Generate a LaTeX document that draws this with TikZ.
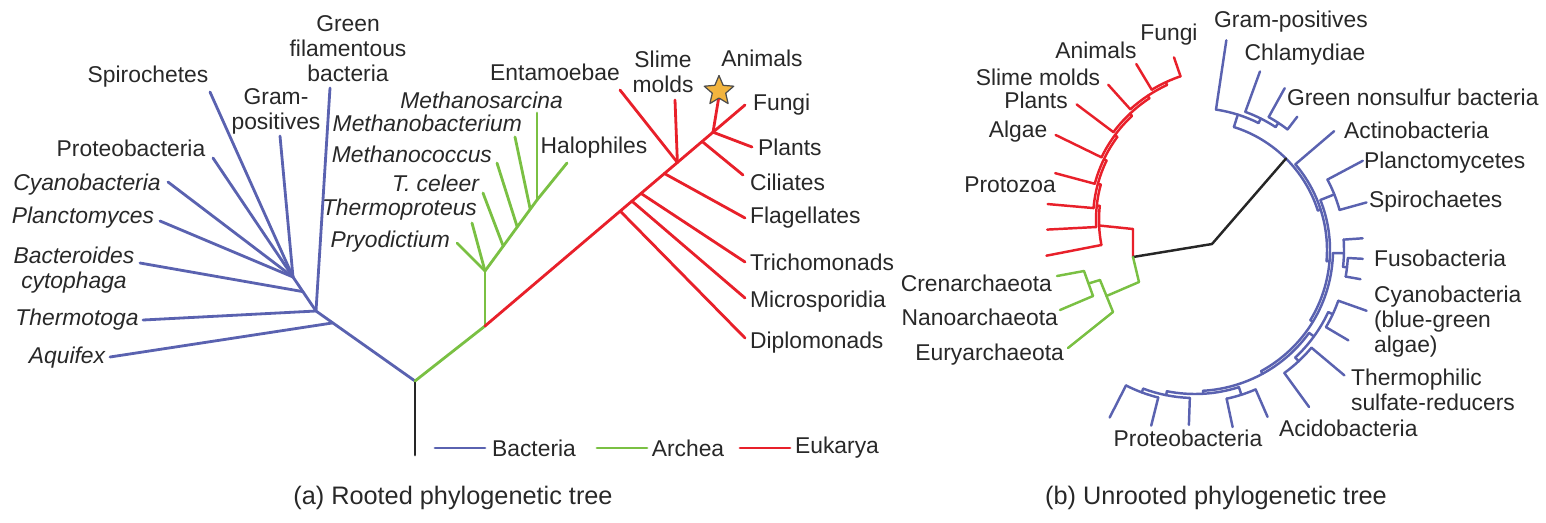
\documentclass[tikz,border=0pt]{standalone}
\usepackage{fontspec}
\setmainfont{Liberation Sans}
\usepackage{xcolor}
\usepackage{tikz}
\usetikzlibrary{shapes.geometric, calc}

\definecolor{bactblue}{RGB}{90,98,176}
\definecolor{archgreen}{RGB}{122,192,67}
\definecolor{eukred}{RGB}{232,32,42}
\definecolor{stargold}{RGB}{242,180,62}
\definecolor{labelgray}{RGB}{40,40,40}

\newcommand{\taxsize}{\fontsize{13}{14.2}\selectfont}
\newcommand{\capsize}{\fontsize{14.4}{17}\selectfont}

\tikzset{
  taxon/.style={font=\taxsize, text=labelgray, inner sep=1pt, align=center},
  taxit/.style={taxon, font=\taxsize\itshape},
  caption/.style={font=\capsize, text=labelgray, inner sep=1pt},
  bacline/.style={draw=bactblue, line width=1.6pt},
  archline/.style={draw=archgreen, line width=1.6pt},
  eukline/.style={draw=eukred, line width=1.6pt},
  stemline/.style={draw=black!85, line width=1.6pt},
  unrooted/.style={line width=1.4pt},
  animalstar/.style={
    star, star points=5, star point ratio=2.2,
    minimum size=0.62cm, inner sep=0pt,
    fill=stargold, draw=black!70, line width=0.7pt,
  },
}

\begin{document}
\begin{tikzpicture}[x=0.02cm, y=-0.02cm, line cap=round, line join=round]
  \useasboundingbox (0,0) rectangle (1546,522);

  % (a) rooted tree -- stem and forks
  \coordinate (rootbase) at (415,455);
  \coordinate (rootfork) at (415,381);
  \coordinate (bacfork)  at (316,311);
  \coordinate (bacfan)   at (293,277);
  \coordinate (aquijoin) at ($(bacfork)!0.17!(rootfork)$);
  \coordinate (bactjoin) at ($(bacfan)!0.43!(bacfork)$);

  % Bacteria labels and tips
  \node[taxon] (greenf) at (348,49)  {Green\\filamentous\\bacteria};
  \node[taxon] (spiro)  at (148,77)  {Spirochetes};
  \node[taxon] (gram)   at (276,111) {Gram-\\positives};
  \node[taxon] (proteo) at (131,148) {Proteobacteria};
  \node[taxit] (cyano)  at (87,185)  {Cyanobacteria};
  \node[taxit] (planc)  at (83,218)  {Planctomyces};
  \node[taxit] (bact)   at (74,270)  {Bacteroides\\cytophaga};
  \node[taxit] (thermo) at (77,320)  {Thermotoga};
  \node[taxit] (aqui)   at (67,358)  {Aquifex};

  \coordinate (greenf-t) at (330,88);
  \coordinate (spiro-t)  at (210,92);
  \coordinate (gram-t)   at (280,136);
  \coordinate (proteo-t) at (213,158);
  \coordinate (cyano-t)  at (168,182);
  \coordinate (planc-t)  at (160,221);
  \coordinate (bact-t)   at (140,263);
  \coordinate (thermo-t) at (143,320);
  \coordinate (aqui-t)   at (110,357);

  \foreach \from/\to in {
    spiro-t/bacfan, gram-t/bacfan, proteo-t/bacfan, cyano-t/bacfan,
    planc-t/bacfan, bacfan/bacfork, greenf-t/bacfork, bact-t/bactjoin,
    thermo-t/bacfork, aqui-t/aquijoin, bacfork/rootfork}
    \draw[bacline] (\from) -- (\to);

  \draw[stemline] (rootbase) -- (rootfork);

  % Archaea
  \coordinate (archfork) at (485,326);
  \coordinate (archnode) at (485,271);
  \coordinate (archtop)  at (537,200);
  \coordinate (celeer-j) at ($(archnode)!0.35!(archtop)$);
  \coordinate (mcoc-j)   at ($(archnode)!0.62!(archtop)$);
  \coordinate (mbac-j)   at ($(archnode)!0.87!(archtop)$);

  \node[taxit, anchor=east] (msar)   at (565,100) {Methanosarcina};
  \node[taxit, anchor=east] (mbac)   at (524,123) {Methanobacterium};
  \node[taxit, anchor=east] (mcoc)   at (494,154) {Methanococcus};
  \node[taxit, anchor=east] (celeer) at (481,183) {T. celeer};
  \node[taxit, anchor=east] (thpr)   at (479,210) {Thermoproteus};
  \node[taxit, anchor=east] (pryo)   at (452,242) {Pryodictium};
  \node[taxon] (halo) at (594,148) {Halophiles};

  \coordinate (msar-t)   at (537,113);
  \coordinate (mbac-t)   at (515,137);
  \coordinate (mcoc-t)   at (497,163);
  \coordinate (celeer-t) at (483,193);
  \coordinate (thpr-t)   at (472,223);
  \coordinate (pryo-t)   at (457,243);
  \coordinate (halo-t)   at (567,163);

  \foreach \from/\to in {
    rootfork/archfork, archfork/archnode, archnode/archtop,
    pryo-t/archnode, thpr-t/archnode, celeer-t/celeer-j,
    mcoc-t/mcoc-j, mbac-t/mbac-j, msar-t/archtop, halo-t/archtop}
    \draw[archline] (\from) -- (\to);

  % Eukarya
  \coordinate (eukend) at (745,105);
  \coordinate (dip-j) at ($(archfork)!0.52!(eukend)$);
  \coordinate (mic-j) at ($(archfork)!0.565!(eukend)$);
  \coordinate (tri-j) at ($(archfork)!0.60!(eukend)$);
  \coordinate (fla-j) at ($(archfork)!0.69!(eukend)$);
  \coordinate (slm-j) at ($(archfork)!0.74!(eukend)$);
  \coordinate (cil-j) at ($(archfork)!0.835!(eukend)$);
  \coordinate (pla-j) at ($(archfork)!0.877!(eukend)$);

  \node[taxon] (ent)  at (555,72)  {Entamoebae};
  \node[taxon] (slm)  at (663,72)  {Slime\\molds};
  \node[taxon] (ani)  at (762,58)  {Animals};
  \node[taxon, anchor=west] (fun) at (751,105) {Fungi};
  \node[taxon, anchor=west] (pla) at (756,147) {Plants};
  \node[taxon, anchor=west] (cil) at (748,182) {Ciliates};
  \node[taxon, anchor=west] (fla) at (748,218) {Flagellates};
  \node[taxon, anchor=west] (tri) at (748,262) {Trichomonads};
  \node[taxon, anchor=west] (mic) at (748,302) {Microsporidia};
  \node[taxon, anchor=west] (dip) at (748,343) {Diplomonads};

  \coordinate (ent-t) at (620,90);
  \coordinate (slm-t) at (675,100);
  \coordinate (pla-t) at (752,147);
  \coordinate (cil-t) at (743,175);
  \coordinate (fla-t) at (745,218);
  \coordinate (tri-t) at (745,262);
  \coordinate (mic-t) at (745,298);
  \coordinate (dip-t) at (745,338);

  \foreach \from/\to in {
    archfork/eukend, dip-t/dip-j, mic-t/mic-j, tri-t/tri-j, fla-t/fla-j,
    ent-t/slm-j, slm-t/slm-j, cil-t/cil-j, pla-t/pla-j}
    \draw[eukline] (\from) -- (\to);

  \draw[eukline] (pla-j) -- (719,96);
  \node[animalstar] (star) at (719,91) {};

  % Legend
  \node[taxon] (key-bac)  at (534,448) {Bacteria};
  \node[taxon] (key-arch) at (688,448) {Archea};
  \node[taxon] (key-euk)  at (837,448) {Eukarya};
  \draw[bacline]  (435,448) -- (485,448);
  \draw[archline] (597,448) -- (647,448);
  \draw[eukline]  (740,448) -- (790,448);

  \node[caption] (cap-a) at (453,498) {(a) Rooted phylogenetic tree};

  % (b) unrooted tree -- bacteria on a circle
  \begin{scope}[shift={(1195,250)}]
    \foreach \a/\ri/\ro in {
      -81.5/142/212, -70/147/190, -61/152/185, -52.5/152/168,
      -40.5/132/183, -28/150/190, -15.5/150/178, -4/149/168,
      3/153/168, 10/153/168, 19.5/152/182, 30.5/152/178,
      40/152/195, 54/152/194, 66.5/152/182, 78/152/181,
      92/148/175, 104/152/181, 117/152/188,
      -56.75/147/152, -63.4/142/147, -72.45/129/142, -21.75/135/150,
      6.5/149/153, 1.25/138/149, 25/147/152, 47/147/152, 36/141/147,
      110.5/148/152, 101.25/144/148, 72.25/144/152, 86.75/141/144,
      61.4/138/141, 31.3/135/138, 4.8/132/135, -17.85/129/132}
      \draw[bacline, unrooted] (\a:\ri) -- (\a:\ro);
    \foreach \s/\e/\r in {
      -61/-52.5/152, -70/-56.75/147, -81.5/-63.4/142, -28/-15.5/150,
      3/10/153, -4/6.5/149, 19.5/30.5/152, 40/54/152, 25/47/147,
      104/117/152, 92/110.5/148, 66.5/78/152, 72.25/101.25/144,
      36/86.75/141, 1.25/61.4/138, -21.75/31.3/135, -40.5/4.8/132,
      -72.45/-17.85/129}
      \draw[bacline, unrooted] (\s:\r) arc[start angle=\s, end angle=\e, radius=\r];
    \coordinate (broot) at (-45.15:129);
  \end{scope}

  % eukarya on a circle
  \begin{scope}[shift={(1230,220)}]
    \foreach \a/\ri/\ro in {
      -109/152/172, -121/152/182, -132/149/182, -143/146/192,
      -154/143/194, -165/140/181, -175/137/183, -183/134/183,
      -191/131/187,
      -115/149/152, -123.5/146/149, -133.25/143/146, -143.6/140/143,
      -154.3/137/140, -164.65/134/137, -173.8/131/134}
      \draw[eukline, unrooted] (\a:\ri) -- (\a:\ro);
    \foreach \s/\e/\r in {
      -109/-121/152, -115/-132/149, -123.5/-143/146, -133.25/-154/143,
      -143.6/-165/140, -154.3/-175/137, -164.65/-183/134, -173.8/-191/131}
      \draw[eukline, unrooted] (\s:\r) arc[start angle=\s, end angle=\e, radius=\r];
    \coordinate (rroot) at (-182.4:131);
  \end{scope}

  % stems joining the three domains
  \coordinate (ujunc)     at (1133,257);
  \coordinate (redbend)   at (1133,229);
  \coordinate (blackbend) at (1212,244);
  \draw[eukline, unrooted] (rroot) -- (redbend) -- (ujunc);
  \draw[stemline, unrooted] (ujunc) -- (blackbend) -- (broot);

  % archaea bracket
  \coordinate (archroot)   at (1139,282);
  \coordinate (eurybr-top) at (1100,280);
  \coordinate (eurybr-bot) at (1113,312);
  \coordinate (eurybr-mid) at ($(eurybr-top)!0.5!(eurybr-bot)$);
  \coordinate (cnbr-top)   at (1084,271);
  \coordinate (cnbr-bot)   at (1093,296);
  \coordinate (cnbr-mid)   at ($(cnbr-top)!0.5!(cnbr-bot)$);
  \coordinate (cren-t)     at (1057,276);
  \coordinate (nano-t)     at (1060,310);
  \coordinate (eury-t)     at (1068,348);

  \foreach \from/\to in {
    ujunc/archroot, archroot/eurybr-mid, eurybr-top/eurybr-bot,
    cnbr-mid/eurybr-top, cnbr-top/cnbr-bot, cren-t/cnbr-top,
    nano-t/cnbr-bot, eury-t/eurybr-bot}
    \draw[archline, unrooted] (\from) -- (\to);

  % (b) labels
  \node[taxon] (fungi2)   at (1169,35)  {Fungi};
  \node[taxon] (animals2) at (1096,50)  {Animals};
  \node[taxon] (slime2)   at (1038,77)  {Slime molds};
  \node[taxon] (plants2)  at (1036,100) {Plants};
  \node[taxon] (algae2)   at (1018,132) {Algae};
  \node[taxon] (protozoa) at (1010,185) {Protozoa};

  \node[taxon, anchor=east] (cren) at (1054,283) {Crenarchaeota};
  \node[taxon, anchor=east] (nano) at (1060,317) {Nanoarchaeota};
  \node[taxon, anchor=east] (eury) at (1066,355) {Euryarchaeota};

  \node[taxon] (gpos)  at (1291,22) {Gram-positives};
  \node[taxon] (chlam) at (1305,55) {Chlamydiae};
  \node[taxon, anchor=west] (gns)      at (1285,97)  {Green nonsulfur bacteria};
  \node[taxon, anchor=west] (actino)   at (1342,130) {Actinobacteria};
  \node[taxon, anchor=west] (plancto)  at (1362,163) {Planctomycetes};
  \node[taxon, anchor=west] (spiroc)   at (1367,202) {Spirochaetes};
  \node[taxon, anchor=west] (fuso)     at (1372,258) {Fusobacteria};
  \node[taxon, anchor=west, align=left] (cyanob)   at (1372,322) {Cyanobacteria\\(blue-green\\algae)};
  \node[taxon, anchor=west, align=left] (thermoph) at (1349,390) {Thermophilic\\sulfate-reducers};
  \node[taxon, anchor=west] (acido)    at (1277,428) {Acidobacteria};
  \node[taxon] (proteob) at (1188,438) {Proteobacteria};

  \node[caption] (cap-b) at (1216,498) {(b) Unrooted phylogenetic tree};

\end{tikzpicture}
\end{document}
